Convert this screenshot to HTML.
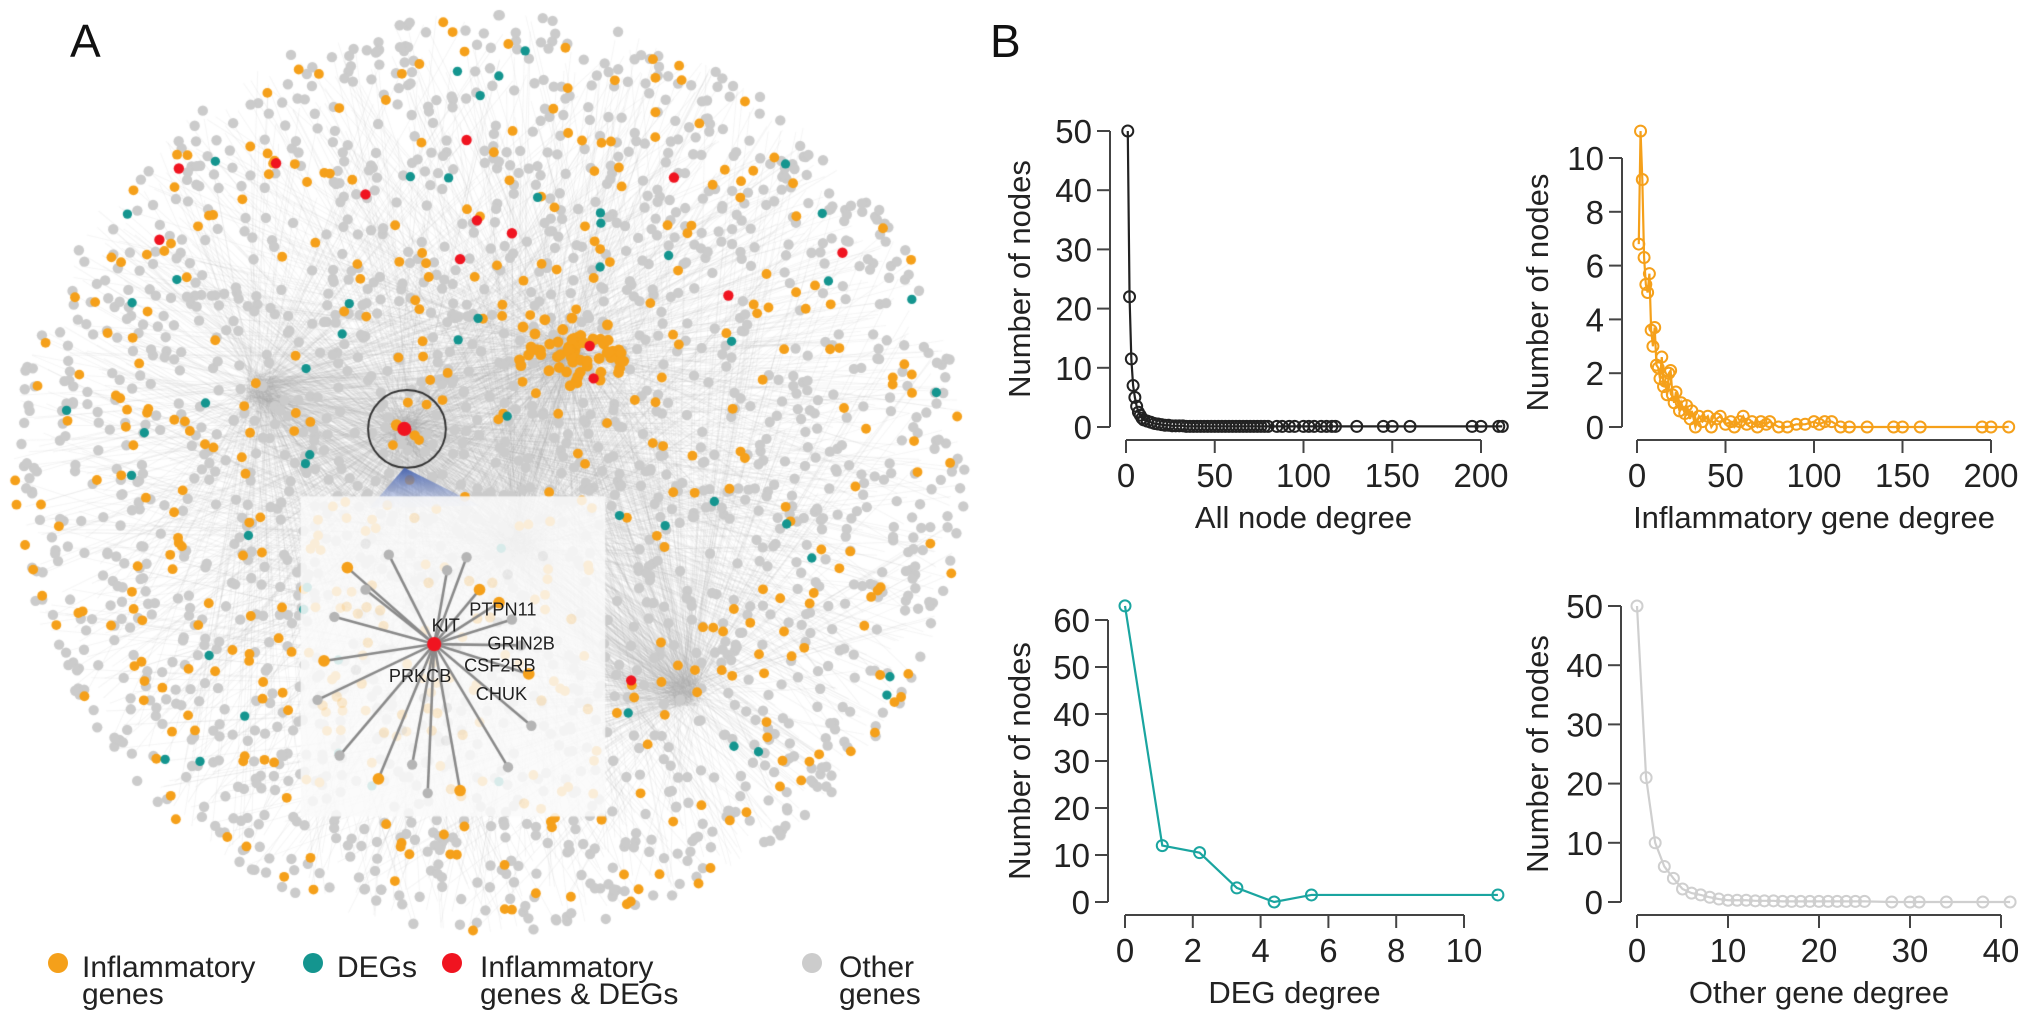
<!DOCTYPE html>
<html><head><meta charset="utf-8"><style>
body{margin:0;background:#fff;width:2032px;height:1033px;overflow:hidden;font-family:"Liberation Sans",sans-serif}
#net{position:absolute;left:0;top:0;width:985px;height:959px}
#charts{position:absolute;left:0;top:0}
</style></head><body>
<canvas id="net" width="985" height="959"></canvas>
<svg id="charts" width="2032" height="1033" font-family="Liberation Sans, sans-serif">
<text x="70" y="57" font-size="46" fill="#111">A</text>
<text x="990" y="57" font-size="46" fill="#111">B</text>
<g transform="scale(1.2963)" font-size="14" fill="#222">
<text x="333" y="487">KIT</text>
<text x="362" y="475">PTPN11</text>
<text x="376" y="501">GRIN2B</text>
<text x="358" y="518">CSF2RB</text>
<text x="300" y="526">PRKCB</text>
<text x="367" y="540">CHUK</text>
</g>
<g font-size="30" fill="#222">
<circle cx="58" cy="963" r="10" fill="#f5a01a"/>
<text x="82" y="977">Inflammatory</text>
<text x="82" y="1004">genes</text>
<circle cx="313" cy="963" r="10" fill="#14958f"/>
<text x="337" y="977">DEGs</text>
<circle cx="452" cy="963" r="10" fill="#f01420"/>
<text x="480" y="977">Inflammatory</text>
<text x="480" y="1004">genes &amp; DEGs</text>
<circle cx="812" cy="963" r="10" fill="#cccccc"/>
<text x="839" y="977">Other</text>
<text x="839" y="1004">genes</text>
</g>
<g id="plots"></g>
</svg>
<script>
// ---------- chart data ----------
const allDeg=[1,2,3,4,5,6,7,8,9,10,12,14,16,18,20,22,24,26,28,30,32,34,36,38,40,42,44,46,48,50,52,54,56,58,60,62,64,66,68,70,72,74,76,78,80,85,88,92,95,100,103,106,110,113,116,118,130,145,150,160,195,200,210,212];
const allCount=[50,22,11.5,7,5,3.5,2.5,2,1.5,1.2,1,0.8,0.6,0.5,0.4,0.3,0.3,0.2,0.2,0.2,0.2,0.1,0.1,0.1,0.1,0.1,0.1,0.1,0.1,0.1,0.1,0.1,0.1,0.1,0.1,0.1,0.1,0.1,0.1,0.1,0.1,0.1,0.1,0.1,0.1,0.1,0.1,0.1,0.1,0.1,0.1,0.1,0.1,0.1,0.1,0.1,0.1,0.1,0.1,0.1,0.1,0.1,0.1,0.1];
const infDeg=[1,2,3,4,5,6,7,8,9,10,11,12,13,14,15,16,17,18,19,20,21,22,24,25,27,28,30,31,33,35,37,40,42,45,47,50,53,55,58,60,62,65,68,70,73,75,80,85,90,95,100,103,106,110,115,120,130,145,150,160,195,200,210];
const infCount=[6.8,11,9.2,6.3,5.3,5,5.7,3.6,3,3.7,2.3,2.2,1.8,2.6,1.5,1.7,1.2,2,2.1,1.2,0.9,1.3,0.6,0.9,0.5,0.8,0.3,0.6,0,0.4,0.2,0.4,0,0.3,0.4,0.1,0.2,0,0.2,0.4,0.1,0.2,0,0.2,0.1,0.2,0,0,0.1,0.1,0.2,0.1,0.2,0.2,0,0,0,0,0,0,0,0,0];
const degDeg=[0,1.1,2.2,3.3,4.4,5.5,11];
const degCount=[63,12,10.5,3,0,1.5,1.5];
const othDeg=[0,1,2,3,4,5,6,7,8,9,10,11,12,13,14,15,16,17,18,19,20,21,22,23,24,25,28,30,31,34,38,41];
const othCount=[50,21,10,6,4,2.2,1.5,1.2,0.8,0.5,0.3,0.3,0.3,0.2,0.2,0.2,0.1,0.1,0.1,0.1,0.1,0.1,0.1,0.1,0.1,0.1,0,0,0,0,0,0];
const allXTicks=[0,50,100,150,200], allYTicks=[0,10,20,30,40,50];
const infXTicks=[0,50,100,150,200], infYTicks=[0,2,4,6,8,10];
const degXTicks=[0,2,4,6,8,10], degYTicks=[0,10,20,30,40,50,60];
const othXTicks=[0,10,20,30,40], othYTicks=[0,10,20,30,40,50];

const NS="http://www.w3.org/2000/svg";
const plots=document.getElementById('plots');
function mk(tag,attrs,parent){const e=document.createElementNS(NS,tag);for(const k in attrs)e.setAttribute(k,attrs[k]);(parent||plots).appendChild(e);return e;}

function chart(o){
  const g=mk('g',{});
  
  
  const sx=v=>o.x0+(v-o.xmin)*(o.x1-o.x0)/(o.xmax-o.xmin);
  const sy=v=>o.y0-(v-o.ymin)*(o.y0-o.y1)/(o.ymax-o.ymin);
  const ya=mk('line',{x1:o.yax,x2:o.yax,y1:sy(o.yt[0]),y2:sy(o.yt[o.yt.length-1]),stroke:'#444','stroke-width':2},g);
  
  
  o.yt.forEach(t=>{
    mk('line',{x1:o.yax-13,x2:o.yax,y1:sy(t),y2:sy(t),stroke:'#444','stroke-width':2},g);
    const tx=mk('text',{x:o.yax-18,y:sy(t)+12,'text-anchor':'end','font-size':33,fill:'#222'},g);
    tx.textContent=t;
    
    
  });
  const xa=mk('line',{x1:sx(o.xt[0]),x2:sx(o.xt[o.xt.length-1]),y1:o.xay,y2:o.xay,stroke:'#444','stroke-width':2},g);
  
  
  o.xt.forEach(t=>{
    mk('line',{x1:sx(t),x2:sx(t),y1:o.xay,y2:o.xay+13,stroke:'#444','stroke-width':2},g);
    const tx=mk('text',{x:sx(t),y:o.xay+47,'text-anchor':'middle','font-size':33,fill:'#222'},g);
    tx.textContent=t;
    
    
  });
  const xt=mk('text',{x:(sx(o.xt[0])+sx(o.xt[o.xt.length-1]))/2,y:o.xay+88,'text-anchor':'middle','font-size':31,fill:'#222'},g);
  xt.textContent=o.xtitle;
  
  
  const yc=(sy(o.yt[0])+sy(o.yt[o.yt.length-1]))/2;
  const yt=mk('text',{x:o.ytx,y:yc,'text-anchor':'middle','font-size':31,fill:'#222',transform:`rotate(-90 ${o.ytx} ${yc})`},g);
  yt.textContent='Number of nodes';
  
  
  const pts=o.xs.map((v,i)=>sx(v)+','+sy(o.ys[i])).join(' ');
  const pl=mk('polyline',{points:pts,fill:'none',stroke:o.col,'stroke-width':2.2},g);
  
  
  o.xs.forEach((v,i)=>{
    const c=mk('circle',{cx:sx(v),cy:sy(o.ys[i]),r:5.5,fill:'none',stroke:o.col,'stroke-width':2},g);
    
    
  });
}
chart({name:'chart-all-node-degree',xs:allDeg,ys:allCount,xt:allXTicks,yt:allYTicks,xmin:0,xmax:200,x0:1126,x1:1481,ymin:0,ymax:50,y0:427,y1:131,yax:1110,xay:440,ytx:1030,xtitle:'All node degree',col:'#222'});
chart({name:'chart-inflammatory-degree',xs:infDeg,ys:infCount,xt:infXTicks,yt:infYTicks,xmin:0,xmax:200,x0:1637,x1:1991,ymin:0,ymax:10,y0:427,y1:158,yax:1622,xay:440,ytx:1548,xtitle:'Inflammatory gene degree',col:'#f5a01a'});
chart({name:'chart-deg-degree',xs:degDeg,ys:degCount,xt:degXTicks,yt:degYTicks,xmin:0,xmax:10,x0:1125,x1:1464,ymin:0,ymax:60,y0:902,y1:620,yax:1108,xay:915,ytx:1030,xtitle:'DEG degree',col:'#1aa5a0'});
chart({name:'chart-other-degree',xs:othDeg,ys:othCount,xt:othXTicks,yt:othYTicks,xmin:0,xmax:40,x0:1637,x1:2001,ymin:0,ymax:50,y0:902,y1:606,yax:1621,xay:915,ytx:1548,xtitle:'Other gene degree',col:'#cfcfcf'});

// ---------- network (decorative) ----------
const cv=document.getElementById('net'),ctx=cv.getContext('2d');
ctx.scale(985/760,959/740);
let seed=12345;function rnd(){seed=(seed*1103515245+12345)&0x7fffffff;return seed/0x7fffffff;}
const CX=378,CY=365,RX=368,RY=355;
function pt(){let a=rnd()*Math.PI*2;let r=Math.min(1,Math.sqrt(rnd()));return [CX+Math.cos(a)*RX*r,CY+Math.sin(a)*RY*r];}
const hubs=[[440,270],[530,535],[312,332],[400,420],[200,300]];
ctx.strokeStyle='rgba(170,170,170,0.12)';ctx.lineWidth=0.8;
for(let i=0;i<2600;i++){const p=pt(),h=hubs[i%hubs.length];ctx.beginPath();ctx.moveTo(p[0],p[1]);ctx.lineTo(h[0]+rnd()*20-10,h[1]+rnd()*20-10);ctx.stroke();}
function dot(x,y,r,c){ctx.fillStyle=c;ctx.beginPath();ctx.arc(x,y,r,0,7);ctx.fill();}
for(let i=0;i<1900;i++){const p=pt();dot(p[0],p[1],4,'#cbcbcb');}
for(let i=0;i<420;i++){const p=pt();dot(p[0],p[1],3.8,'#f5a01a');}
for(let i=0;i<70;i++){const a=rnd()*7,r=rnd()*40;dot(440+Math.cos(a)*r*1.2,270+Math.sin(a)*r*0.7,4.2,'#f5a01a');}
for(let i=0;i<55;i++){const p=pt();dot(p[0],p[1],3.6,'#14958f');}
[[360,108],[282,150],[213,126],[138,130],[123,185],[368,170],[395,180],[355,200],[455,267],[458,292],[520,137],[562,228],[650,195],[487,525]].forEach(p=>dot(p[0],p[1],4,'#f01420'));
ctx.strokeStyle='#333';ctx.lineWidth=1.5;ctx.beginPath();ctx.arc(314,331,30,0,7);ctx.stroke();
dot(306,328,4.5,'#f5a01a');dot(320,336,4,'#f5a01a');dot(312,331,5.5,'#f01420');
const gr=ctx.createLinearGradient(0,360,0,400);gr.addColorStop(0,'rgba(60,90,170,0.95)');gr.addColorStop(1,'rgba(200,210,240,0.2)');
ctx.fillStyle=gr;ctx.beginPath();ctx.moveTo(312,361);ctx.lineTo(285,392);ctx.lineTo(370,390);ctx.closePath();ctx.fill();
ctx.fillStyle='rgba(250,250,250,0.85)';ctx.fillRect(232,383,235,247);
for(let i=0;i<40;i++){dot(240+rnd()*220,390+rnd()*230,4,rnd()<0.6?'rgba(245,160,26,0.2)':'rgba(200,200,200,0.3)');}
const star=[[268,438],[300,428],[345,440],[385,465],[395,478],[402,498],[408,520],[410,560],[392,592],[355,610],[330,612],[318,590],[292,601],[262,583],[245,540],[250,510],[258,476],[282,455],[370,455],[360,430]];
ctx.strokeStyle='#8a8a8a';ctx.lineWidth=2;
star.forEach(s=>{ctx.beginPath();ctx.moveTo(335,497);ctx.lineTo(s[0],s[1]);ctx.stroke();});
star.forEach((s,i)=>dot(s[0],s[1],i%3==0?4.5:4,i%3==0?'#f5a01a':'#b5b5b5'));
dot(335,497,5.5,'#f01420');
</script>
</body></html>
